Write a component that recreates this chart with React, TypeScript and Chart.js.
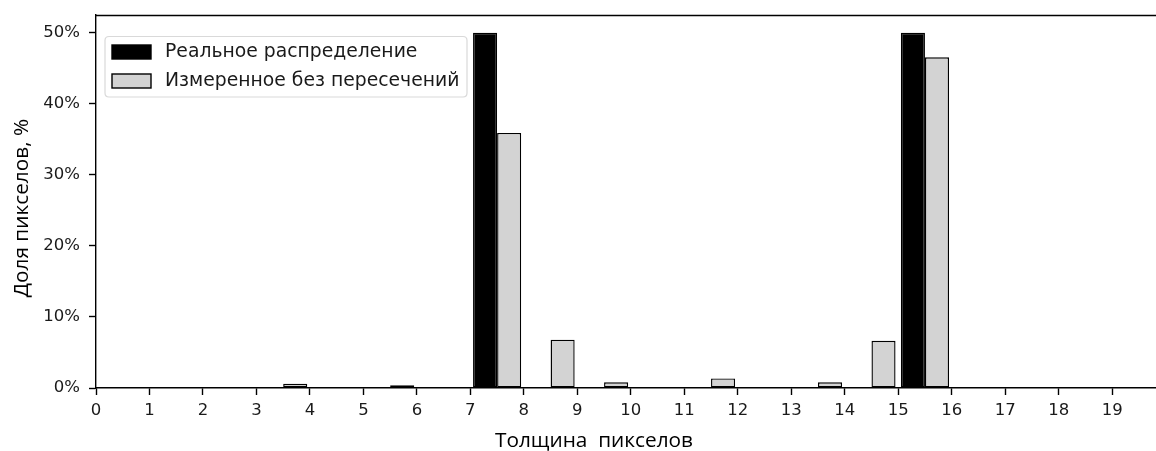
import React, { useEffect, useRef } from 'react';
import { Chart, registerables } from 'chart.js';

Chart.register(...registerables);

const categories = [0, 1, 2, 3, 4, 5, 6, 7, 8, 9, 10, 11, 12, 13, 14, 15, 16, 17, 18, 19];
const realValues = [0, 0, 0, 0, 0, 0, 0, 50, 0, 0, 0, 0, 0, 0, 0, 50, 0, 0, 0, 0];
const measuredValues = [0, 0, 0, 0.6, 0, 0.4, 0.12, 35.9, 6.8, 0.8, 0, 1.35, 0.12, 0.8, 6.65, 46.55, 0, 0, 0, 0];
const xTicks = [0, 1, 2, 3, 4, 5, 6, 7, 8, 9, 10, 11, 12, 13, 14, 15, 16, 17, 18, 19];
const yTicks = [0, 10, 20, 30, 40, 50];
const seriesLabels = ['Реальное распределение', 'Измеренное без пересечений'];
const seriesColors = ['#000000', '#d3d3d3'];
const xTitle = 'Толщина  пикселов';
const yTitle = 'Доля пикселов, %';

const TICK_FONT = 'DejaVu Sans';
const TITLE_FONT = 'Open Sans';

const decorPlugin = {
  id: 'decor',
  afterDatasetsDraw(chart: any) {
    const { ctx, chartArea } = chart;
    ctx.save();
    // top spine
    ctx.strokeStyle = '#000';
    ctx.lineWidth = 1.4;
    ctx.beginPath();
    ctx.moveTo(chartArea.left, chartArea.top + 0.5);
    ctx.lineTo(chartArea.right, chartArea.top + 0.5);
    ctx.stroke();

    // legend
    const bx = 105, by = 36.5, bw = 362, bh = 60.5, r = 4;
    ctx.beginPath();
    ctx.moveTo(bx + r, by);
    ctx.lineTo(bx + bw - r, by);
    ctx.quadraticCurveTo(bx + bw, by, bx + bw, by + r);
    ctx.lineTo(bx + bw, by + bh - r);
    ctx.quadraticCurveTo(bx + bw, by + bh, bx + bw - r, by + bh);
    ctx.lineTo(bx + r, by + bh);
    ctx.quadraticCurveTo(bx, by + bh, bx, by + bh - r);
    ctx.lineTo(bx, by + r);
    ctx.quadraticCurveTo(bx, by, bx + r, by);
    ctx.closePath();
    ctx.fillStyle = 'rgba(255,255,255,0.8)';
    ctx.fill();
    ctx.strokeStyle = '#d9d9d9';
    ctx.lineWidth = 1.2;
    ctx.stroke();

    chart.data.datasets.forEach((ds: any, i: number) => {
      const py = 45 + i * 29;
      ctx.fillStyle = ds.backgroundColor;
      ctx.fillRect(112, py, 39, 14);
      ctx.strokeStyle = '#000';
      ctx.lineWidth = 1.4;
      ctx.strokeRect(112, py, 39, 14);
      ctx.fillStyle = '#1a1a1a';
      ctx.font = `18.8px "${TICK_FONT}"`;
      ctx.textAlign = 'left';
      ctx.textBaseline = 'middle';
      ctx.fillText(ds.label, 165, py + 7.5);
    });

    // axis titles
    ctx.fillStyle = '#000';
    ctx.font = `20.8px "${TITLE_FONT}"`;
    ctx.textAlign = 'center';
    ctx.textBaseline = 'alphabetic';
    ctx.fillText(xTitle, 594, 447);

    ctx.translate(28, 208);
    ctx.rotate(-Math.PI / 2);
    ctx.textBaseline = 'alphabetic';
    ctx.fillText(yTitle, 0, 0);
    ctx.restore();
  },
};

export default function App() {
  const canvasRef = useRef<HTMLCanvasElement | null>(null);

  useEffect(() => {
    if (!canvasRef.current) return;
    const chart = new Chart(canvasRef.current, {
      type: 'bar',
      data: {
        datasets: [
          {
            label: seriesLabels[0],
            data: categories.map((c, i) => ({ x: c + 0.5, y: realValues[i] })),
            backgroundColor: seriesColors[0],
            borderColor: '#000',
            borderWidth: 1.4,
            borderSkipped: false,
          },
          {
            label: seriesLabels[1],
            data: categories.map((c, i) => ({ x: c + 0.5, y: measuredValues[i] })),
            backgroundColor: seriesColors[1],
            borderColor: '#000',
            borderWidth: 1.4,
            borderSkipped: false,
          },
        ],
      },
      plugins: [decorPlugin],
      options: {
        animation: false,
        responsive: false,
        maintainAspectRatio: false,
        categoryPercentage: 0.9,
        barPercentage: 1.0,
        layout: { padding: { top: 15, left: 0, right: 0, bottom: 0 } },
        plugins: {
          legend: { display: false },
          tooltip: { enabled: false },
          title: { display: false },
        },
        scales: {
          x: {
            type: 'linear',
            min: 0,
            max: 19.82,
            offset: false,
            afterBuildTicks: (scale: any) => {
              scale.ticks = xTicks.map((v) => ({ value: v }));
            },
            afterFit: (scale: any) => {
              scale.height = 63;
              scale.paddingLeft = 0;
              scale.paddingRight = 0;
            },
            ticks: {
              autoSkip: false,
              maxRotation: 0,
              padding: 6,
              color: '#1a1a1a',
              font: { family: TICK_FONT, size: 16.5 },
              callback: (v: any) => String(v),
            },
            grid: {
              offset: false,
              drawOnChartArea: false,
              drawTicks: true,
              tickLength: 7,
              tickWidth: 1.4,
              tickColor: '#000',
            },
            border: { display: true, color: '#000', width: 1.4 },
          },
          y: {
            type: 'linear',
            min: 0,
            max: 52.5,
            afterBuildTicks: (scale: any) => {
              scale.ticks = yTicks.map((v) => ({ value: v }));
            },
            afterFit: (scale: any) => {
              scale.width = 96;
              scale.paddingTop = 0;
              scale.paddingBottom = 0;
            },
            ticks: {
              padding: 9,
              color: '#1a1a1a',
              font: { family: TICK_FONT, size: 16.5 },
              callback: (v: any) => `${v}%`,
            },
            grid: {
              drawOnChartArea: false,
              drawTicks: true,
              tickLength: 7,
              tickWidth: 1.4,
              tickColor: '#000',
            },
            border: { display: true, color: '#000', width: 1.4 },
          },
        },
      },
    } as any);
    return () => chart.destroy();
  }, []);

  return (
    <div style={{ position: 'absolute', left: 0, top: 0, width: 1156, height: 451 }}>
      <canvas ref={canvasRef} width={1156} height={451} style={{ display: 'block' }} />
    </div>
  );
}
